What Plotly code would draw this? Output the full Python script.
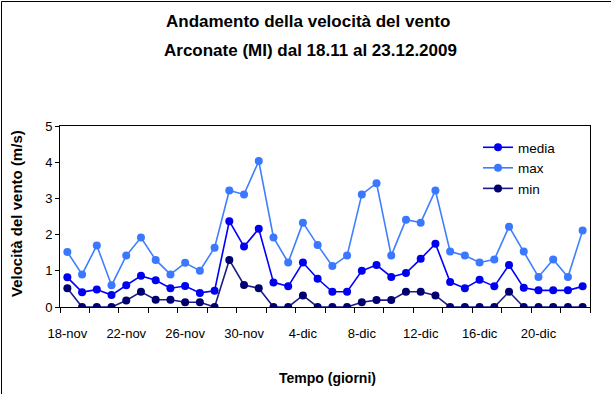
import plotly.graph_objects as go

# Daily wind speed at Arconate (MI), 18 Nov - 23 Dec 2009
days = [
    "18-nov", "19-nov", "20-nov", "21-nov", "22-nov", "23-nov", "24-nov", "25-nov",
    "26-nov", "27-nov", "28-nov", "29-nov", "30-nov",
    "1-dic", "2-dic", "3-dic", "4-dic", "5-dic", "6-dic", "7-dic", "8-dic", "9-dic",
    "10-dic", "11-dic", "12-dic", "13-dic", "14-dic", "15-dic", "16-dic", "17-dic",
    "18-dic", "19-dic", "20-dic", "21-dic", "22-dic", "23-dic",
]
media = [0.82, 0.41, 0.48, 0.33, 0.60, 0.86, 0.74, 0.52, 0.58, 0.39, 0.45, 2.37, 1.67,
         2.16, 0.68, 0.57, 1.23, 0.78, 0.42, 0.42, 1.00, 1.16, 0.83, 0.94, 1.33, 1.75,
         0.69, 0.52, 0.75, 0.57, 1.16, 0.53, 0.46, 0.46, 0.46, 0.57]
vmax = [1.52, 0.90, 1.70, 0.60, 1.42, 1.92, 1.30, 0.90, 1.22, 1.00, 1.64, 3.22, 3.11,
        4.03, 1.92, 1.23, 2.33, 1.71, 1.13, 1.42, 3.11, 3.42, 1.42, 2.41, 2.33, 3.22,
        1.53, 1.42, 1.23, 1.31, 2.22, 1.53, 0.83, 1.31, 0.83, 2.11]
vmin = [0.52, 0.0, 0.0, 0.0, 0.18, 0.42, 0.20, 0.20, 0.13, 0.13, 0.0, 1.30, 0.61,
        0.52, 0.0, 0.0, 0.32, 0.0, 0.0, 0.0, 0.13, 0.19, 0.19, 0.42, 0.42, 0.32,
        0.0, 0.0, 0.0, 0.0, 0.42, 0.0, 0.0, 0.0, 0.0, 0.0]

label_step = 4
x = list(range(len(days)))
label_idx = x[::label_step]
label_txt = [days[i] for i in label_idx]
boundaries = [i - 0.5 for i in range(0, len(days) + 1, 2)]

FONT = "Liberation Sans, Arial, sans-serif"

series = [
    ("media", media, "#0000FF", "#0000F0"),
    ("max", vmax, "#3F7FFF", "#3A78FF"),
    ("min", vmin, "#1C1C86", "#000070"),
]

fig = go.Figure()
for name, vals, lcol, mcol in series:
    fig.add_trace(go.Scatter(
        x=x, y=vals, name=name, mode="lines+markers",
        line=dict(color=lcol, width=1.6),
        marker=dict(color=mcol, size=8, symbol="circle"),
    ))

L, R, T, B = 60, 21, 126, 87
W, H = 611, 394
pw, ph = W - L - R, H - T - B


def px_x(p):
    return (p - L) / pw


def px_y(p):
    return (H - B - p) / ph


fig.update_layout(
    width=W, height=H,
    margin=dict(l=L, r=R, t=T, b=B, pad=0),
    paper_bgcolor="white", plot_bgcolor="white",
    font=dict(family=FONT, color="black", size=13),
    showlegend=True,
    legend=dict(
        x=px_x(478), y=px_y(132), xanchor="left", yanchor="top",
        font=dict(size=13.5), bgcolor="rgba(0,0,0,0)", borderwidth=0,
        tracegroupgap=0,
    ),
    xaxis=dict(
        range=[-0.5, len(days) - 0.5],
        tickmode="array", tickvals=label_idx, ticktext=label_txt,
        ticks="outside", ticklen=14, tickcolor="rgba(0,0,0,0)",
        tickfont=dict(size=13),
        showline=True, linecolor="black", linewidth=1, mirror=True,
        showgrid=False, zeroline=False,
        minor=dict(tickmode="array", tickvals=boundaries, ticks="outside",
                   ticklen=5, tickcolor="black", tickwidth=1, showgrid=False),
    ),
    yaxis=dict(
        range=[0, 5], dtick=1, tick0=0,
        ticks="outside", ticklen=4, tickcolor="black",
        tickfont=dict(size=13),
        showline=True, linecolor="black", linewidth=1, mirror=True,
        showgrid=False, zeroline=False,
    ),
    annotations=[
        dict(text="<b>Andamento della velocità del vento</b>", x=px_x(308), y=px_y(22),
             xref="paper", yref="paper", showarrow=False, font=dict(size=17),
             xanchor="center", yanchor="middle"),
        dict(text="<b>Arconate (MI) dal 18.11 al 23.12.2009</b>", x=px_x(310), y=px_y(50),
             xref="paper", yref="paper", showarrow=False, font=dict(size=17),
             xanchor="center", yanchor="middle"),
        dict(text="<b>Tempo (giorni)</b>", x=px_x(327), y=px_y(378),
             xref="paper", yref="paper", showarrow=False, font=dict(size=14),
             xanchor="center", yanchor="middle"),
        dict(text="<b>Velocità del vento (m/s)</b>", x=px_x(16), y=px_y(214),
             xref="paper", yref="paper", showarrow=False, font=dict(size=15),
             textangle=-90, xanchor="center", yanchor="middle"),
    ],
    shapes=[
        # outer chart frame
        dict(type="rect", xref="paper", yref="paper",
             x0=px_x(1.5), x1=px_x(640), y0=px_y(420), y1=px_y(1.5),
             line=dict(color="black", width=1), fillcolor="rgba(0,0,0,0)"),
    ],
)

fig.write_html("out.html")
